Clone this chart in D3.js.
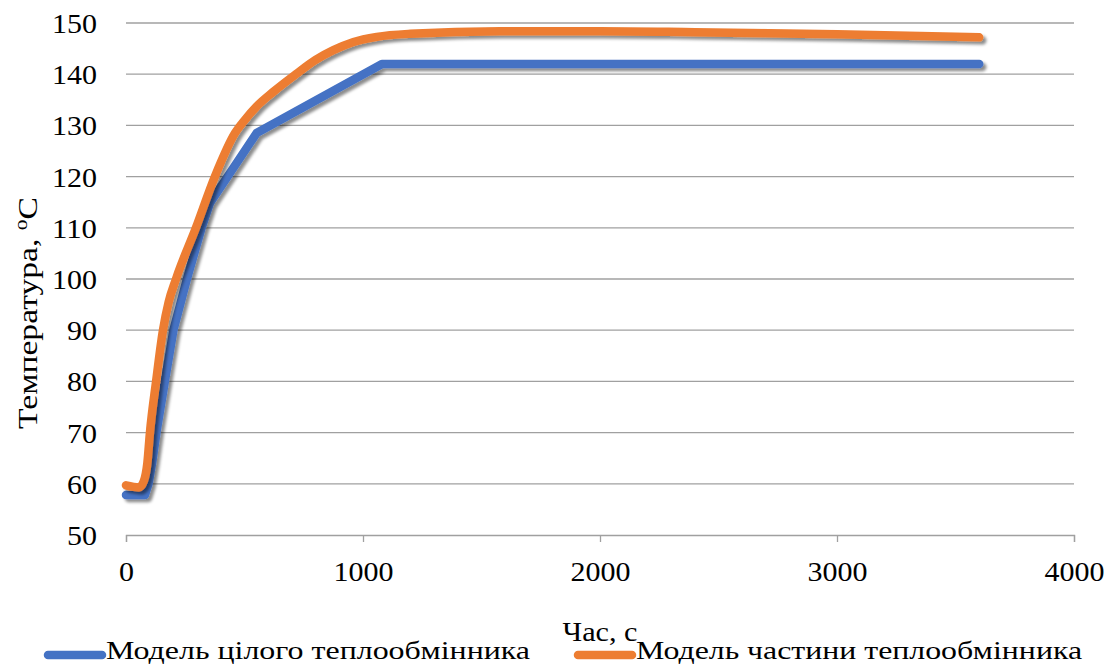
<!DOCTYPE html>
<html><head><meta charset="utf-8">
<script src="https://cdn.jsdelivr.net/npm/d3@7"></script>
<style>
html,body{margin:0;padding:0;background:#fff;}
text{font-family:"Liberation Serif","Tinos","Times New Roman","DejaVu Serif",serif !important;fill:#000;}
</style></head>
<body><svg id="c" width="1113" height="666"></svg>
<script>
const xTicks = [0, 1000, 2000, 3000, 4000];
const yTicks = [50, 60, 70, 80, 90, 100, 110, 120, 130, 140, 150];
const seriesNames = ["Модель цілого теплообмінника", "Модель частини теплообмінника"];
const wholeTime = [0, 80, 95, 110, 130, 165, 200, 257, 319, 354, 551, 1080, 3600];
const wholeTemp = [57.8, 57.8, 60, 64, 70.5, 80.3, 90, 100, 110, 114.8, 128.5, 142, 142];
const partTime = [0, 55, 75, 90, 101, 127, 156, 180, 211, 295, 375, 460, 500, 551, 620, 717, 800, 875, 960, 1058, 1200, 1578, 2000, 2400, 3000, 3600];
const partTemp = [59.7, 59.3, 60.5, 64, 70, 80, 90, 95.5, 100, 110, 120, 128.5, 131, 133.7, 136.5, 140, 142.8, 144.7, 146.3, 147.3, 147.9, 148.4, 148.4, 148.2, 147.8, 147.2];

const svg = d3.select("#c");
const x = d3.scaleLinear().domain([0, 4000]).range([126, 1074]);
const y = d3.scaleLinear().domain([50, 150]).range([535, 23]);
const FS = 28;

const defs = svg.append("defs");
const f = defs.append("filter").attr("id","sh").attr("x","-10%").attr("y","-10%").attr("width","120%").attr("height","120%");
f.append("feDropShadow").attr("dx",3).attr("dy",3).attr("stdDeviation",1.8).attr("flood-color","#000").attr("flood-opacity",0.45);

// grid
svg.append("g").selectAll("line").data(yTicks.filter(d=>d>50)).join("line")
  .attr("x1",126).attr("x2",1074).attr("y1",d=>y(d)).attr("y2",d=>y(d))
  .attr("stroke","#a0a0a0").attr("stroke-width",1.3);

// x axis
const xa = svg.append("g").attr("transform","translate(0,535)")
  .call(d3.axisBottom(x).tickValues(xTicks).tickSize(7).tickPadding(8).tickFormat(d3.format("d")));
xa.select(".domain").attr("stroke","#a0a0a0").attr("stroke-width",1.3);
xa.selectAll(".tick line").attr("stroke","#a0a0a0").attr("stroke-width",1.3);
xa.selectAll("text").attr("font-size",FS).attr("dy",null).attr("y",46)
  .attr("textLength",d=>String(d).length*15).attr("lengthAdjust","spacingAndGlyphs");

// y axis
const ya = svg.append("g").attr("transform","translate(126,0)")
  .call(d3.axisLeft(y).tickValues(yTicks).tickSize(0).tickPadding(29));
ya.select(".domain").remove();
ya.selectAll("text").attr("font-size",FS).attr("dy",null).attr("dominant-baseline","central")
  .attr("textLength",d=>String(d).length*15).attr("lengthAdjust","spacingAndGlyphs");

const whole = wholeTime.map((t,i)=>[t, wholeTemp[i]]);
const part = partTime.map((t,i)=>[t, partTemp[i]]);

svg.append("path").datum(whole).attr("d", d3.line().x(d=>x(d[0])).y(d=>y(d[1])).curve(d3.curveLinear))
  .attr("fill","none").attr("stroke","#4472C4").attr("stroke-width",8.5)
  .attr("stroke-linecap","round").attr("stroke-linejoin","round").attr("filter","url(#sh)");
svg.append("path").datum(part).attr("d", d3.line().x(d=>x(d[0])).y(d=>y(d[1])).curve(d3.curveMonotoneX))
  .attr("fill","none").attr("stroke","#ED7D31").attr("stroke-width",8.5)
  .attr("stroke-linecap","round").attr("stroke-linejoin","round").attr("filter","url(#sh)");

// axis titles
svg.append("text").attr("x",600).attr("y",641).attr("text-anchor","middle").attr("font-size",FS)
  .attr("textLength",75).attr("lengthAdjust","spacingAndGlyphs").text("Час, с");
const yt = svg.append("text").attr("transform","translate(37,313) rotate(-90) scale(1.2,1)").attr("text-anchor","middle").attr("font-size",FS);
yt.append("tspan").text("Температура, ");
yt.append("tspan").attr("dy",-10).attr("font-size",18).text("o");
yt.append("tspan").attr("dy",10).text("С");

// legend
const leg = [{c:"#4472C4", x0:48, tx:106, w:424, name:seriesNames[0]},{c:"#ED7D31", x0:578, tx:636, w:446, name:seriesNames[1]}];
const lg = svg.append("g").selectAll("g").data(leg).join("g");
lg.append("line").attr("x1",d=>d.x0).attr("x2",d=>d.x0+54).attr("y1",655).attr("y2",655)
  .attr("stroke",d=>d.c).attr("stroke-width",8.5).attr("stroke-linecap","round");
lg.append("text").attr("x",d=>d.tx).attr("y",659).attr("font-size",26)
  .attr("textLength",d=>d.w).attr("lengthAdjust","spacingAndGlyphs").text(d=>d.name);
</script></body></html>
